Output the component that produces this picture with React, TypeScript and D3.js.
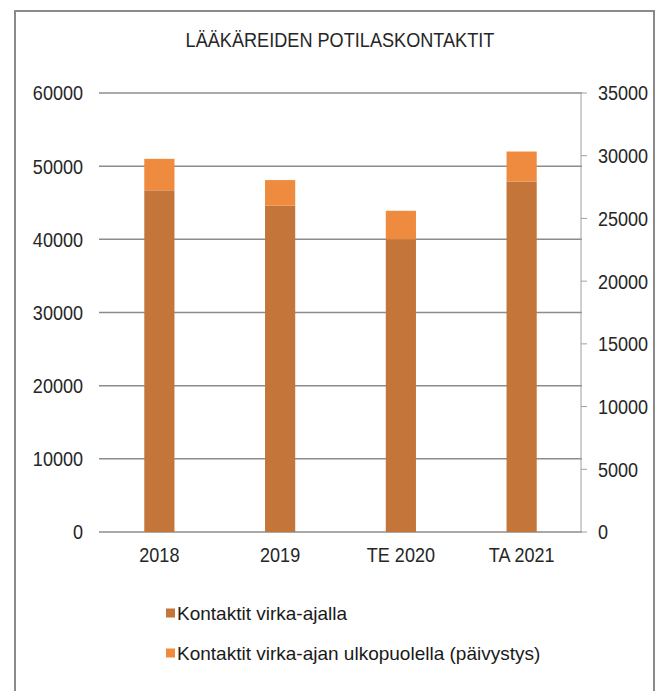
import { useEffect, useRef } from "react";
import * as d3 from "d3";

const categories = ["2018", "2019", "TE 2020", "TA 2021"];
const virkaAjalla = [46700, 44600, 40000, 47900];
const paivystys = [4300, 3500, 3900, 4100];
const seriesNames = [
  "Kontaktit virka-ajalla",
  "Kontaktit virka-ajan ulkopuolella (päivystys)",
];
const leftTicks = [0, 10000, 20000, 30000, 40000, 50000, 60000];
const rightTicks = [0, 5000, 10000, 15000, 20000, 25000, 30000, 35000];
const colors = ["#c4763a", "#ee8b3e"];

export default function App() {
  const ref = useRef<SVGSVGElement>(null);

  useEffect(() => {
    const width = 660;
    const height = 691;
    const left = 99;
    const right = 582;
    const top = 93;
    const bottom = 532;
    const font = "'Liberation Sans', Arial, sans-serif";
    const sx = 0.88; // narrow-looking glyphs

    const svg = d3.select(ref.current);
    svg.selectAll("*").remove();
    svg.attr("width", width).attr("height", height);

    svg.append("rect")
      .attr("width", width).attr("height", height).attr("fill", "#fff");

    // outer frame
    svg.append("rect")
      .attr("x", 15).attr("y", 11)
      .attr("width", 639).attr("height", 700)
      .attr("fill", "none")
      .attr("stroke", "#8a8a8a")
      .attr("stroke-width", 2);

    svg.append("text")
      .attr("transform", "translate(340,47) scale(0.93,1)")
      .attr("text-anchor", "middle")
      .attr("font-family", font)
      .attr("font-size", 19.5)
      .attr("fill", "#262626")
      .text("LÄÄKÄREIDEN POTILASKONTAKTIT");

    const x = d3.scaleBand()
      .domain(categories)
      .range([left, right])
      .paddingInner(0.75)
      .paddingOuter(0.375);

    const y = d3.scaleLinear().domain([0, 60000]).range([bottom, top]);
    const y2 = d3.scaleLinear().domain([0, 35000]).range([bottom, top]);

    // gridlines
    svg.append("g")
      .selectAll("line")
      .data(leftTicks)
      .join("line")
      .attr("x1", left).attr("x2", right)
      .attr("y1", d => y(d)).attr("y2", d => y(d))
      .attr("stroke", "#8c8c8c")
      .attr("stroke-width", 1.5);

    // left labels
    svg.append("g")
      .selectAll("text")
      .data(leftTicks)
      .join("text")
      .attr("transform", d => `translate(83,${y(d)}) scale(${sx},1)`)
      .attr("dy", "0.36em")
      .attr("text-anchor", "end")
      .attr("font-family", font)
      .attr("font-size", 20.5)
      .attr("fill", "#262626")
      .text(d => String(d));

    // right axis
    svg.append("line")
      .attr("x1", 581).attr("x2", 581)
      .attr("y1", top).attr("y2", bottom)
      .attr("stroke", "#a0a0a0");
    svg.append("g")
      .selectAll("line")
      .data(rightTicks)
      .join("line")
      .attr("x1", 581).attr("x2", 587)
      .attr("y1", d => y2(d)).attr("y2", d => y2(d))
      .attr("stroke", "#a0a0a0");
    svg.append("g")
      .selectAll("text")
      .data(rightTicks)
      .join("text")
      .attr("transform", d => `translate(598,${y2(d)}) scale(${sx},1)`)
      .attr("dy", "0.36em")
      .attr("font-family", font)
      .attr("font-size", 20.5)
      .attr("fill", "#262626")
      .text(d => String(d));

    // stacked bars
    const rows = categories.map((c, i) => ({ cat: c, a: virkaAjalla[i], b: paivystys[i] }));
    const stack = d3.stack<any>().keys(["a", "b"])(rows);
    svg.append("g")
      .selectAll("g")
      .data(stack)
      .join("g")
      .attr("fill", (_, i) => colors[i])
      .selectAll("rect")
      .data(d => d)
      .join("rect")
      .attr("x", d => x(d.data.cat)!)
      .attr("width", x.bandwidth())
      .attr("y", d => y(d[1]))
      .attr("height", d => y(d[0]) - y(d[1]));

    // category labels
    svg.append("g")
      .selectAll("text")
      .data(categories)
      .join("text")
      .attr("transform", d => `translate(${x(d)! + x.bandwidth() / 2},562) scale(${sx},1)`)
      .attr("text-anchor", "middle")
      .attr("font-family", font)
      .attr("font-size", 20.5)
      .attr("fill", "#262626")
      .text(d => d);

    // legend
    const legend = svg.append("g")
      .selectAll("g")
      .data(seriesNames)
      .join("g")
      .attr("transform", (_, i) => `translate(166,${613 + i * 40})`);
    legend.append("rect")
      .attr("x", 0).attr("y", -4.5)
      .attr("width", 9).attr("height", 9)
      .attr("fill", (_, i) => colors[i]);
    legend.append("text")
      .attr("x", 11).attr("dy", "0.36em")
      .attr("font-family", font)
      .attr("font-size", 19)
      .attr("fill", "#1a1a1a")
      .text(d => d);
  }, []);

  return (
    <svg ref={ref} style={{ position: "absolute", left: 0, top: 0 }}></svg>
  );
}
